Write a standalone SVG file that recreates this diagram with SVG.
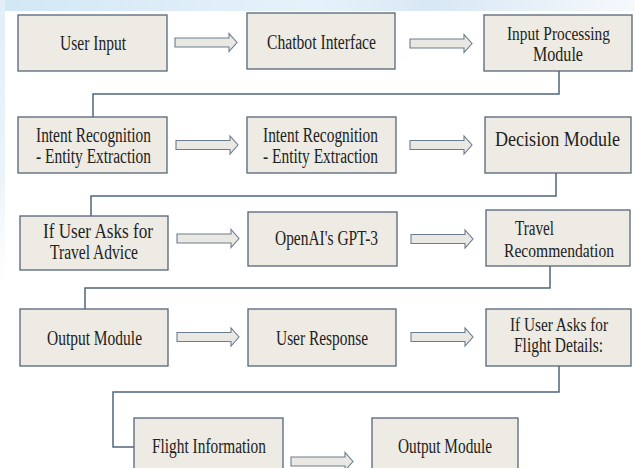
<svg xmlns="http://www.w3.org/2000/svg" width="635" height="468" viewBox="0 0 635 468">
<defs>
<linearGradient id="topbg" x1="0" y1="0" x2="1" y2="0">
<stop offset="0" stop-color="#d2e7f5"/>
<stop offset="0.5" stop-color="#e6f2fa"/>
<stop offset="0.68" stop-color="#d8e8f4"/>
<stop offset="1" stop-color="#f6f9fc"/>
</linearGradient>
<linearGradient id="leftbg" x1="0" y1="0" x2="0" y2="1">
<stop offset="0" stop-color="#e2eff8"/>
<stop offset="0.6" stop-color="#eaf3fa"/>
<stop offset="1" stop-color="#ffffff"/>
</linearGradient>
<path id="arr" d="M0,-4.5 H54 V-9 L62,0 L54,9 V4.5 H0 Z"/>
</defs>
<style>
.box{fill:#edebe3;stroke:#55667a;stroke-width:1.3}
.t{font-family:'Liberation Serif','Times New Roman',serif;font-size:20px;fill:#222}
.s{font-size:18px}
.arrow{fill:#e9e8e2;stroke:#6c7d90;stroke-width:1.1}
.conn{fill:none;stroke:#4f667b;stroke-width:1.5}
</style>
<rect width="635" height="468" fill="#ffffff"/>
<rect x="0" y="0" width="635" height="11" fill="url(#topbg)"/>
<rect x="0" y="0" width="5" height="280" fill="url(#leftbg)"/>

<g id="connectors">
<polyline class="conn" points="559,71 559,94 93,94 93,117"/>
<polyline class="conn" points="556,173 556,196 91,196 91,216"/>
<polyline class="conn" points="550,266 550,288 85,288 85,309"/>
<polyline class="conn" points="559,366 559,392 113,392 113,447 134,447"/>
<use href="#arr" class="arrow" transform="translate(175,42.5)"/>
<use href="#arr" class="arrow" transform="translate(410,43.5)"/>
<use href="#arr" class="arrow" transform="translate(176,145)"/>
<use href="#arr" class="arrow" transform="translate(410,145)"/>
<use href="#arr" class="arrow" transform="translate(177,238.5)"/>
<use href="#arr" class="arrow" transform="translate(411,239)"/>
<use href="#arr" class="arrow" transform="translate(177,337)"/>
<use href="#arr" class="arrow" transform="translate(411,337)"/>
<use href="#arr" class="arrow" transform="translate(291,461.5)"/>
</g>

<g font-family="Liberation Serif, Times New Roman, serif">
<g id="n1"><rect class="box" x="18" y="15" width="149" height="56"/>
<text class="t" x="60" y="50" textLength="66" lengthAdjust="spacingAndGlyphs">User Input</text></g>
<g id="n2"><rect class="box" x="247" y="13" width="148" height="56"/>
<text class="t" x="267" y="49" textLength="109" lengthAdjust="spacingAndGlyphs">Chatbot Interface</text></g>
<g id="n3"><rect class="box" x="484" y="15" width="148" height="56"/>
<text class="t s" x="507" y="40" textLength="103" lengthAdjust="spacingAndGlyphs">Input Processing</text>
<text class="t" x="533" y="61" textLength="50" lengthAdjust="spacingAndGlyphs">Module</text></g>

<g id="n4"><rect class="box" x="18" y="117" width="149" height="56"/>
<text class="t" x="36" y="142" textLength="115" lengthAdjust="spacingAndGlyphs">Intent Recognition</text>
<text class="t" x="36" y="163" textLength="115" lengthAdjust="spacingAndGlyphs">- Entity Extraction</text></g>
<g id="n5"><rect class="box" x="247" y="117" width="149" height="56"/>
<text class="t" x="263" y="142" textLength="115" lengthAdjust="spacingAndGlyphs">Intent Recognition</text>
<text class="t" x="263" y="163" textLength="115" lengthAdjust="spacingAndGlyphs">- Entity Extraction</text></g>
<g id="n6"><rect class="box" x="485" y="117" width="146" height="56"/>
<text class="t" x="495" y="146" textLength="125" lengthAdjust="spacingAndGlyphs">Decision Module</text></g>

<g id="n7"><rect class="box" x="20" y="216" width="148" height="54"/>
<text class="t" x="43" y="238" textLength="110" lengthAdjust="spacingAndGlyphs">If User Asks for</text>
<text class="t" x="50" y="259" textLength="88" lengthAdjust="spacingAndGlyphs">Travel Advice</text></g>
<g id="n8"><rect class="box" x="248" y="212" width="149" height="54"/>
<text class="t" x="275" y="245" textLength="103" lengthAdjust="spacingAndGlyphs">OpenAI's GPT-3</text></g>
<g id="n9"><rect class="box" x="486" y="210" width="144" height="56"/>
<text class="t" x="515" y="235" textLength="39" lengthAdjust="spacingAndGlyphs">Travel</text>
<text class="t s" x="504" y="257" textLength="110" lengthAdjust="spacingAndGlyphs">Recommendation</text></g>

<g id="n10"><rect class="box" x="20" y="309" width="148" height="57"/>
<text class="t" x="47" y="345" textLength="95" lengthAdjust="spacingAndGlyphs">Output Module</text></g>
<g id="n11"><rect class="box" x="248" y="309" width="148" height="57"/>
<text class="t" x="276" y="345" textLength="92" lengthAdjust="spacingAndGlyphs">User Response</text></g>
<g id="n12"><rect class="box" x="486" y="309" width="145" height="57"/>
<text class="t s" x="510" y="331" textLength="98" lengthAdjust="spacingAndGlyphs">If User Asks for</text>
<text class="t" x="514" y="352" textLength="89" lengthAdjust="spacingAndGlyphs">Flight Details:</text></g>

<g id="n13"><rect class="box" x="134" y="418" width="149" height="60"/>
<text class="t" x="152" y="453" textLength="114" lengthAdjust="spacingAndGlyphs">Flight Information</text></g>
<g id="n14"><rect class="box" x="372" y="418" width="146" height="60"/>
<text class="t" x="398" y="453" textLength="94" lengthAdjust="spacingAndGlyphs">Output Module</text></g>
</g>
</svg>
